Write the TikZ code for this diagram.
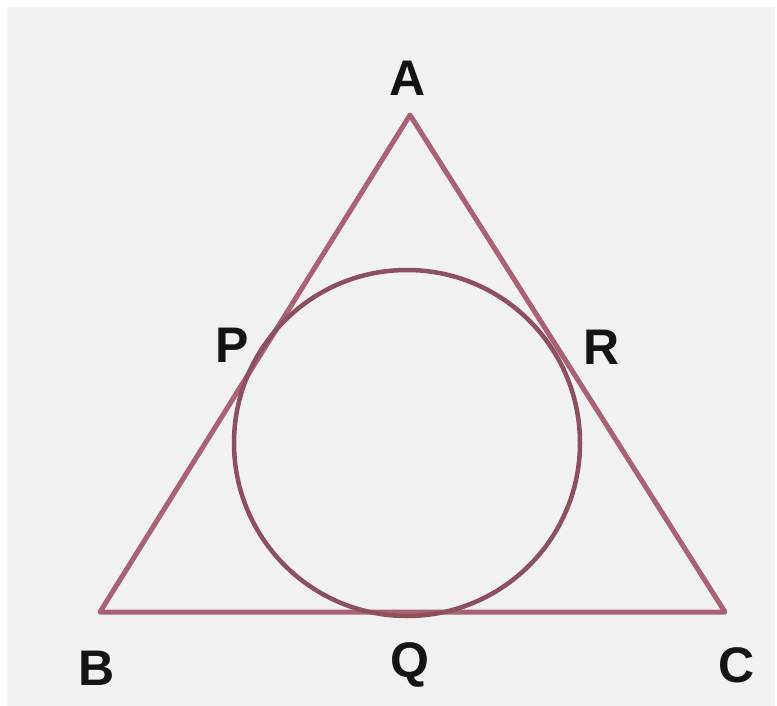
\documentclass[tikz,border=0pt]{standalone}
\usepackage{fontspec}
\setmainfont{Liberation Sans}
\definecolor{bgg}{HTML}{F1F1F1}
\definecolor{edge}{RGB}{168,98,115}
\definecolor{circ}{RGB}{140,80,95}
\begin{document}
\begin{tikzpicture}[x=1pt,y=-1pt,
  lbl/.style={font=\fontsize{50}{50}\selectfont\bfseries, text=black!92, inner sep=0pt},
  side/.style={draw=edge, line width=5pt, line join=round},
  incirc/.style={draw=circ, line width=4.5pt}]
\useasboundingbox (0,0) rectangle (777,706);
\fill[white] (0,0) rectangle (777,706);
\fill[bgg] (7,7) rectangle (775,706);
\coordinate (A) at (410,115);
\coordinate (B) at (100,612);
\coordinate (C) at (725,612);
\draw[side] (A) -- (B) -- (C) -- cycle;
\node[incirc, circle, minimum size=346pt, inner sep=0pt] (O) at (407,443) {};
\node[lbl] (lA) at (408,78) {A};
\node[lbl] (lP) at (232,345) {P};
\node[lbl] (lR) at (602,347) {R};
\node[lbl] (lB) at (97,668) {B};
\node[lbl] (lQ) at (410,665) {Q};
\node[lbl] (lC) at (737,665) {C};
\end{tikzpicture}
\end{document}
